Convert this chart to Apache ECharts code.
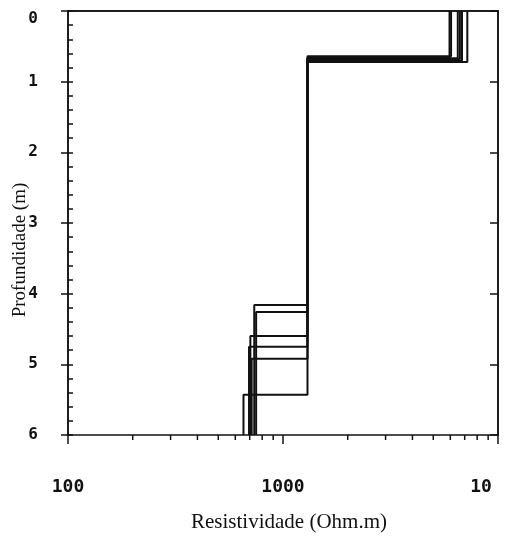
<!DOCTYPE html>
<html>
<head>
<meta charset="utf-8">
<script src="https://cdn.jsdelivr.net/npm/echarts@6/dist/echarts.min.js"></script>
<style>
  html, body { margin: 0; padding: 0; background: #fff; }
  #chart { width: 505px; height: 539px; }
</style>
</head>
<body>
<div id="chart"></div>
<script>
// Three-layer resistivity models (one per inversion), depth in metres
const rhoTop   = [5950, 6500, 6650, 6800, 7200, 6050];
const depthTop = [0.66, 0.67, 0.68, 0.70, 0.72, 0.64];
const rhoMid   = [1300, 1300, 1300, 1300, 1300, 1300];
const depthMid = [4.16, 4.26, 4.60, 4.75, 4.92, 5.43];
const rhoBase  = [735, 750, 705, 695, 715, 655];
const maxDepth = 6;

// Axis ticks
const xMajor = [100, 1000, 10000];
const xMajorLabels = ['100', '1000', '10'];
const xMinor = [200, 300, 400, 500, 600, 700, 800, 900,
                2000, 3000, 4000, 5000, 6000, 7000, 8000, 9000];
const depthLabels = ['0', '1', '2', '3', '4', '5', '6'];

const ink = '#111';
const tickFont = { fontFamily: 'DejaVu Sans Mono', fontWeight: 'bold', fontSize: 18, color: ink };

// staircase path of one model: layer resistivity held over each depth interval
function profile(i) {
  return [
    [rhoTop[i], 0], [rhoTop[i], depthTop[i]],
    [rhoMid[i], depthTop[i]], [rhoMid[i], depthMid[i]],
    [rhoBase[i], depthMid[i]], [rhoBase[i], maxDepth]
  ];
}

// short downward tick below the bottom edge at a given resistivity
function tickMark(len) {
  return function (params, api) {
    const p = api.coord([api.value(0), maxDepth]);
    return {
      type: 'line',
      shape: { x1: p[0], y1: p[1], x2: p[0], y2: p[1] + len },
      style: { stroke: ink, lineWidth: 1.5 }
    };
  };
}

const chart = echarts.init(document.getElementById('chart'), null, { renderer: 'canvas' });

const modelSeries = rhoTop.map((_, i) => ({
  type: 'line',
  xAxisIndex: 0,
  yAxisIndex: 0,
  data: profile(i),
  showSymbol: false,
  symbol: 'none',
  lineStyle: { color: ink, width: 2 },
  z: 3
}));

chart.setOption({
  animation: false,
  backgroundColor: '#fff',
  grid: {
    left: 68, right: 7, top: 11, bottom: 104,
    containLabel: false, outerBoundsMode: 'none',
    show: true, borderColor: ink, borderWidth: 1.5, backgroundColor: 'transparent'
  },
  xAxis: [
    // resistivity, logarithmic, decade labels
    {
      type: 'log', logBase: 10, min: xMajor[0], max: xMajor[2], position: 'bottom',
      axisLine: { show: true, lineStyle: { color: ink, width: 1.5 } },
      axisTick: { show: false },
      axisLabel: {
        margin: 43, ...tickFont, showMinLabel: true, showMaxLabel: true,
        formatter: (v) => {
          const i = xMajor.findIndex(m => Math.abs(m - v) / m < 1e-6);
          if (i < 0) return '';
          return i === 2 ? '{r|' + xMajorLabels[i] + '}' : xMajorLabels[i];
        },
        rich: { r: { ...tickFont, padding: [0, 34, 0, 0] } }
      },
      splitLine: { show: false }
    }
  ],
  yAxis: [
    {
      type: 'value', inverse: true, min: 0, max: maxDepth, interval: 1, position: 'left',
      axisLine: { show: true, lineStyle: { color: ink, width: 1.5 } },
      axisTick: { show: true, length: 7, lineStyle: { color: ink, width: 1.5 } },
      axisLabel: {
        margin: 30, ...tickFont, fontSize: 16, verticalAlignMinLabel: 'top',
        formatter: (v) => depthLabels[Math.round(v)]
      },
      splitLine: { show: false }
    },
    // minor depth ticks every 0.2 m, pointing inward
    {
      type: 'value', inverse: true, min: 0, max: maxDepth, interval: 0.2, position: 'left',
      axisLine: { show: false },
      axisTick: { show: true, inside: true, length: 5, lineStyle: { color: ink, width: 1.5 } },
      axisLabel: { show: false }, splitLine: { show: false }
    },
    // right edge: inward ticks at whole metres
    {
      type: 'value', inverse: true, min: 0, max: maxDepth, interval: 1, position: 'right',
      axisLine: { show: true, lineStyle: { color: ink, width: 1.5 } },
      axisTick: { show: true, inside: true, length: 8, lineStyle: { color: ink, width: 1.5 } },
      axisLabel: { show: false }, splitLine: { show: false }
    }
  ],
  series: modelSeries.concat([
    // decade ticks
    {
      type: 'custom', xAxisIndex: 0, yAxisIndex: 0, clip: false, silent: true,
      data: xMajor.map(v => [v]), renderItem: tickMark(9), z: 4
    },
    // minor ticks 2..9 within each decade
    {
      type: 'custom', xAxisIndex: 0, yAxisIndex: 0, clip: false, silent: true,
      data: xMinor.map(v => [v]), renderItem: tickMark(5), z: 4
    }
  ]),
  graphic: [
    {
      type: 'text', x: 20, y: 250, rotation: Math.PI / 2,
      style: {
        text: 'Profundidade (m)', font: '19px "Liberation Serif"', fill: ink,
        align: 'center', verticalAlign: 'middle'
      }
    },
    {
      type: 'text', x: 289, y: 522,
      style: {
        text: 'Resistividade (Ohm.m)', font: '21px "Liberation Serif"', fill: ink,
        align: 'center', verticalAlign: 'middle'
      }
    }
  ]
});
</script>
</body>
</html>
